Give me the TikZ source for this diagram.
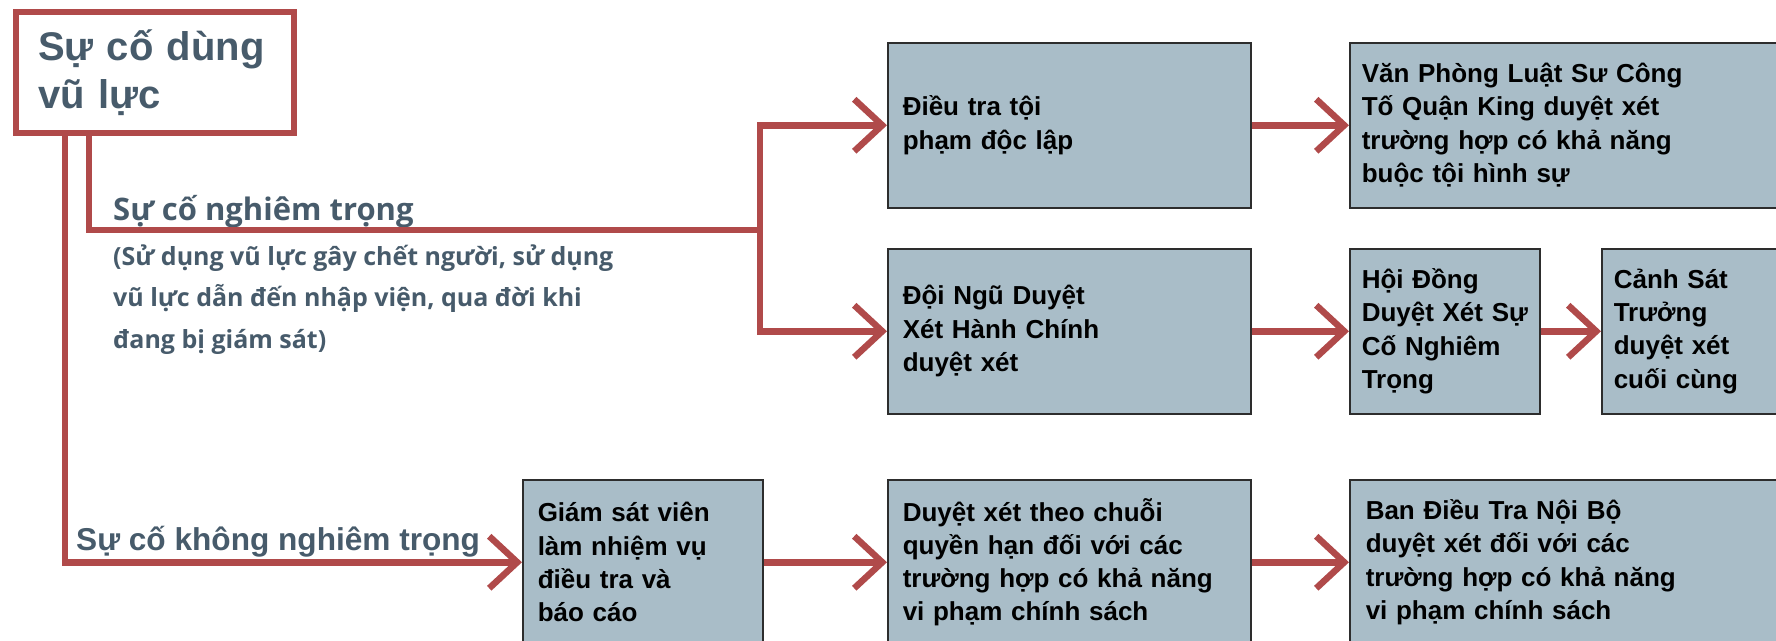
\documentclass[tikz,border=0pt]{standalone}
\usepackage{fontspec}
\setmainfont{Liberation Sans}
\newfontfamily\notefont{Open Sans}
\usetikzlibrary{arrows.meta,positioning}

\definecolor{lineRed}{RGB}{176,74,74}
\definecolor{boxBlue}{RGB}{169,189,200}
\definecolor{boxEdge}{RGB}{45,45,45}
\definecolor{labelGrey}{RGB}{71,91,107}

\tikzset{
	stepbox/.style={draw=boxEdge, line width=1.5pt, fill=boxBlue, anchor=north west,
		minimum height=165pt, inner xsep=15pt, inner ysep=0pt, align=left,
		font=\bfseries\fontsize{26}{33.3}\selectfont},
	wire/.style={draw=lineRed, line width=6.5pt},
	flow/.style={wire, -{Straight Barb[length=28pt,width=52pt]}},
	caption/.style={text=labelGrey, anchor=base west, inner sep=0pt},
}

\begin{document}
\begin{tikzpicture}[x=1pt, y=-1pt]
	\path[use as bounding box, clip] (0,0) rectangle (1776,640);

	\node[draw=lineRed, line width=6pt, anchor=north west, minimum height=121pt,
		text width=234pt, inner xsep=22pt, align=left, text=labelGrey,
		font=\bfseries\fontsize{40}{48}\selectfont] (title) at (13,9) {Sự cố dùng\\vũ lực};

	% hàng trên
	\node[stepbox, text width=333pt] (dieutra) at (887,42) {Điều tra tội\\phạm độc lập};
	\node[stepbox, text width=430pt, inner xsep=12pt] (vanphong) at (1349,42)
		{Văn Phòng Luật Sư Công\\Tố Quận King duyệt xét\\trường hợp có khả năng\\buộc tội hình sự};

	% hàng giữa
	\node[stepbox, text width=333pt] (doingu) at (887,248) {Đội Ngũ Duyệt\\Xét Hành Chính\\duyệt xét};
	\node[stepbox, text width=166pt, inner xsep=12pt] (hoidong) at (1349,248)
		{Hội Đồng\\\mbox{Duyệt Xét Sự}\\Cố Nghiêm\\Trọng};
	\node[stepbox, text width=300pt, inner xsep=12pt] (canhsat) at (1601,248)
		{Cảnh Sát\\Trưởng\\duyệt xét\\cuối cùng};

	% hàng dưới
	\node[stepbox, text width=210pt] (giamsat) at (522,479)
		{Giám sát viên\\làm nhiệm vụ\\điều tra và\\báo cáo};
	\node[stepbox, text width=333pt] (duyetxet) at (887,479)
		{Duyệt xét theo chuỗi\\quyền hạn đối với các\\trường hợp có khả năng\\vi phạm chính sách};
	\node[stepbox, text width=430pt, inner xsep=16pt] (bandieutra) at (1349,479)
		{Ban Điều Tra Nội Bộ\\duyệt xét đối với các\\trường hợp có khả năng\\vi phạm chính sách};

	% nhãn
	\node[caption, font=\notefont\bfseries\fontsize{31}{36}\selectfont] (nghiemtrong) at (113,220)
		{Sự cố nghiêm trọng};
	\node[caption, align=left, font=\notefont\bfseries\fontsize{25}{41.5}\selectfont] (ghichu) at (113,348)
		{(Sử dụng vũ lực gây chết người, sử dụng\\vũ lực dẫn đến nhập viện, qua đời khi\\đang bị giám sát)};
	\node[caption, font=\bfseries\fontsize{31.6}{36}\selectfont] (khongnghiem) at (76,550)
		{Sự cố không nghiêm trọng};

	% đường nối
	\coordinate (fork) at (760,230);
	\draw[wire] ([xshift=76pt]title.south west) |- (fork);
	\draw[flow] (fork) |- (dieutra.west);
	\draw[flow] (fork) |- (doingu.west);
	\draw[flow] ([xshift=52pt]title.south west) |- (giamsat.west);
	\draw[flow] (dieutra) -- (vanphong);
	\draw[flow] (doingu) -- (hoidong);
	\draw[flow] (hoidong) -- (canhsat);
	\draw[flow] (giamsat) -- (duyetxet);
	\draw[flow] (duyetxet) -- (bandieutra);
\end{tikzpicture}
\end{document}
